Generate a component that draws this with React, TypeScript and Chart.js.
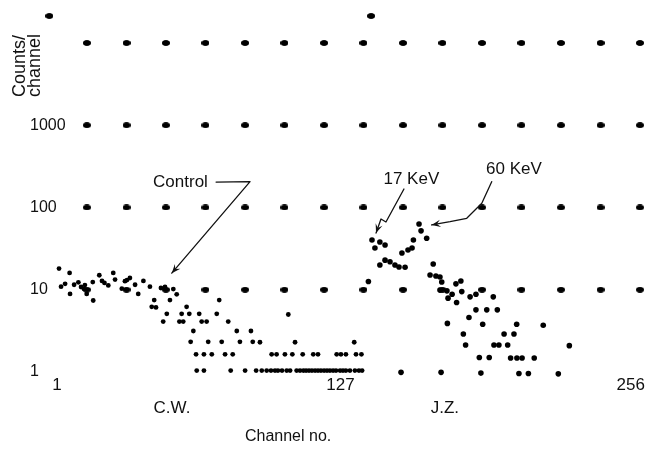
import React, { useEffect, useRef } from 'react';
import { Chart, registerables } from 'chart.js';

Chart.register(...registerables);

const INK = '#111111';
const FONT = '"Liberation Sans", Arial, sans-serif';

// Axis ticks
const xTickValues = [1, 127, 256];
const yTickValues = [1, 10, 100, 1000];

// Display marker grid of the analyser (channel positions and count levels)
const markerChannels = [14.3, 31.9, 49.4, 67.0, 84.6, 102.1, 119.7, 137.2, 154.8, 172.3, 189.9, 207.4, 225.0, 242.6, 260.1];
const markerLevels = [10, 100, 1000, 10000];
const extraMarkerChannels = [-2.4, 140.6];
const extraMarkerLevel = 21300;

// C.W. (control) spectrum
const cwChannels = [
  1.9, 6.6, 2.8, 4.6, 6.8, 8.6, 10.5, 11.7, 13.4, 13.0, 14.2, 16.9, 17.1, 19.8, 21.0, 22.1, 23.8, 26.0, 26.8, 29.8,
  31.2, 32.1, 33.4, 35.7, 37.1, 39.4, 42.3, 47.2, 49.0, 52.7, 54.2, 44.2, 51.2, 73.1, 43.1, 45.0, 58.6, 49.8, 56.4, 59.8,
  64.2, 72.0, 103.8, 48.2, 55.4, 57.1, 65.3, 67.5, 77.1, 61.6, 80.9, 87.2, 60.4, 68.2, 74.2, 82.3, 88.0, 91.2, 106.8, 133.1,
  62.8, 66.3, 69.8, 75.7, 79.1, 96.4, 98.6, 102.3, 105.6, 110.2, 114.9, 117.0, 125.3, 127.2, 129.4, 133.9, 136.3,
  63.1, 66.3, 78.2, 84.6, 89.5, 92.0, 94.2, 96.1, 97.9, 99.2, 101.0, 103.1, 104.6, 107.5, 109.0, 110.5, 111.7, 113.0,
  114.3, 115.7, 117.0, 118.3, 119.7, 121.0, 122.3, 123.7, 125.0, 126.8, 128.1, 129.4, 131.2, 133.4, 135.2, 136.6,
];
const cwCounts = [
  18.1, 16.0, 10.9, 11.8, 8.9, 11.5, 12.3, 10.8, 11.4, 10.2, 8.9, 12.4, 7.4, 15.0, 12.8, 12.1, 11.3, 16.0, 13.3, 10.3,
  12.7, 13.1, 13.9, 11.5, 8.9, 12.8, 10.9, 10.5, 10.8, 10.2, 8.8, 7.5, 7.5, 7.5, 6.2, 6.1, 6.2, 5.1, 5.1, 5.1,
  5.1, 5.1, 5.0, 4.1, 4.1, 4.1, 4.1, 4.1, 4.1, 3.15, 3.15, 3.15, 2.33, 2.33, 2.33, 2.33, 2.33, 2.3, 2.3, 2.3,
  1.64, 1.64, 1.64, 1.64, 1.64, 1.64, 1.64, 1.64, 1.64, 1.64, 1.64, 1.64, 1.64, 1.64, 1.64, 1.64, 1.64,
  1.04, 1.04, 1.04, 1.04, 1.04, 1.04, 1.04, 1.04, 1.04, 1.04, 1.04, 1.04, 1.04, 1.04, 1.04, 1.04, 1.04, 1.04,
  1.04, 1.04, 1.04, 1.04, 1.04, 1.04, 1.04, 1.04, 1.04, 1.04, 1.04, 1.04, 1.04, 1.04, 1.04, 1.04,
];

// J.Z. spectrum
const jzChannels = [
  139.4, 141.0, 144.5, 146.8, 142.3, 144.5, 146.8, 149.0, 151.2, 153.0, 155.7, 154.3, 157.0, 158.8, 159.4, 165.3,
  161.9, 162.8, 168.2, 166.8, 169.4, 171.2, 172.0, 178.3, 180.5, 171.2, 174.3, 176.6, 174.8, 180.9, 178.6, 184.6,
  187.2, 194.9, 187.2, 192.0, 196.7, 184.1, 174.5, 190.2, 205.3, 217.1, 181.6, 199.7, 204.1, 182.6, 195.2, 197.4,
  201.3, 228.7, 188.7, 193.1, 202.6, 205.4, 207.7, 213.1, 153.9, 171.7, 189.4, 206.3, 210.5, 223.8,
];
const jzCounts = [
  12.6, 40.3, 38.1, 35.0, 32.2, 20.0, 22.9, 21.9, 20.0, 18.9, 18.8, 28.0, 30.4, 32.2, 40.3, 42.2,
  63.0, 52.0, 20.6, 15.1, 14.7, 14.3, 12.4, 11.8, 12.8, 9.9, 9.7, 8.8, 7.9, 9.5, 7.0, 8.2,
  8.8, 8.2, 5.7, 5.7, 5.7, 4.6, 3.9, 3.8, 3.8, 3.7, 2.9, 2.9, 2.9, 2.13, 2.13, 2.13,
  2.13, 2.09, 1.5, 1.5, 1.48, 1.48, 1.48, 1.48, 0.99, 0.99, 0.97, 0.96, 0.96, 0.95,
];

// Callouts (text anchored in channel / count coordinates)
const calloutTexts = ['Control', '17 KeV', '60 KeV'];
const calloutChannels = [43.7, 158.5, 204.1];
const calloutCounts = [204, 222, 294];
const calloutAligns: CanvasTextAlign[] = ['left', 'center', 'center'];

// Leader lines ending in arrowheads: [channel, count]
const controlLeader = [[71.7, 204], [86.8, 206], [52.0, 15.9]];
const kev17Leader = [[155.2, 168], [147.2, 66.6], [145.0, 72.5], [142.8, 48.9]];
const kev60Leader = [[194.2, 206], [189.8, 112.5], [183.1, 73.9], [175.7, 67.2], [167.5, 61.3]];
const leaders = [controlLeader, kev17Leader, kev60Leader];

// Labels under the axis
const regionLabels = ['C.W.', 'J.Z.'];
const regionChannels = [52.1, 173.4];
const xTitle = 'Channel no.';
const xTitleChannel = 103.7;
const yTitleLines = ['Counts/', 'channel'];

function makeDot(w: number, h: number): HTMLCanvasElement {
  const c = document.createElement('canvas');
  c.width = w;
  c.height = h;
  const g = c.getContext('2d')!;
  g.fillStyle = '#000000';
  for (let k = 0; k < 2; k++) {
    g.beginPath();
    g.ellipse(w / 2, h / 2, w / 2 - 0.2, h / 2 - 0.2, 0, 0, Math.PI * 2);
    g.fill();
  }
  return c;
}

const annotationPlugin = {
  id: 'mcaAnnotations',
  afterDatasetsDraw(chart: any) {
    const { ctx, scales, chartArea } = chart;
    const xs = scales.x;
    const ys = scales.y;
    ctx.save();
    ctx.fillStyle = INK;
    ctx.strokeStyle = INK;
    ctx.lineWidth = 1.3;
    ctx.lineJoin = 'round';
    ctx.lineCap = 'round';

    for (const path of leaders) {
      const pts = path.map(([c, v]) => [xs.getPixelForValue(c), ys.getPixelForValue(v)]);
      ctx.beginPath();
      pts.forEach(([px, py], i) => (i ? ctx.lineTo(px, py) : ctx.moveTo(px, py)));
      ctx.stroke();
      const [x1, y1] = pts[pts.length - 2];
      const [x2, y2] = pts[pts.length - 1];
      const a = Math.atan2(y2 - y1, x2 - x1);
      const L = 9;
      const W = 3.6;
      ctx.beginPath();
      ctx.moveTo(x2, y2);
      ctx.lineTo(x2 - L * Math.cos(a) + W * Math.sin(a), y2 - L * Math.sin(a) - W * Math.cos(a));
      ctx.lineTo(x2 - 0.6 * L * Math.cos(a), y2 - 0.6 * L * Math.sin(a));
      ctx.lineTo(x2 - L * Math.cos(a) - W * Math.sin(a), y2 - L * Math.sin(a) + W * Math.cos(a));
      ctx.closePath();
      ctx.fill();
    }

    ctx.textBaseline = 'middle';
    ctx.font = `17px ${FONT}`;
    calloutTexts.forEach((t, i) => {
      ctx.textAlign = calloutAligns[i];
      ctx.fillText(t, xs.getPixelForValue(calloutChannels[i]), ys.getPixelForValue(calloutCounts[i]));
    });

    ctx.textAlign = 'center';
    ctx.font = `17px ${FONT}`;
    regionLabels.forEach((t, i) => {
      ctx.fillText(t, xs.getPixelForValue(regionChannels[i]), chartArea.bottom + 33);
    });
    ctx.font = `16px ${FONT}`;
    ctx.fillText(xTitle, xs.getPixelForValue(xTitleChannel), chartArea.bottom + 62);

    ctx.font = `18px ${FONT}`;
    ctx.textAlign = 'left';
    yTitleLines.forEach((t, i) => {
      ctx.save();
      ctx.translate(chartArea.left - 10 + i * 15, chartArea.top + 87);
      ctx.rotate(-Math.PI / 2);
      ctx.fillText(t, 0, 0);
      ctx.restore();
    });
    ctx.restore();
  },
};

export default function App() {
  const ref = useRef<HTMLCanvasElement>(null);

  useEffect(() => {
    const canvas = ref.current;
    if (!canvas) return;
    const markerImg = makeDot(8, 6);
    const markerData: { x: number; y: number }[] = [];
    for (const lv of markerLevels) for (const c of markerChannels) markerData.push({ x: c, y: lv });
    extraMarkerChannels.forEach((c) => markerData.push({ x: c, y: extraMarkerLevel }));
    const cw = cwChannels.map((c, i) => ({ x: c, y: cwCounts[i] }));
    const jz = jzChannels.map((c, i) => ({ x: c, y: jzCounts[i] }));

    const chart = new Chart(canvas, {
      type: 'scatter',
      data: {
        datasets: [
          { label: 'markers', data: markerData, pointStyle: markerImg as any, pointRadius: 4, clip: false as any },
          { label: 'C.W.', data: cw, pointRadius: 2.4, pointBackgroundColor: '#000', pointBorderWidth: 0, clip: false as any },
          { label: 'J.Z.', data: jz, pointRadius: 2.8, pointBackgroundColor: '#000', pointBorderWidth: 0, clip: false as any },
        ],
      },
      options: {
        responsive: false,
        animation: false,
        devicePixelRatio: 1,
        events: [],
        layout: { padding: { left: 30, right: 7, top: 10, bottom: 55.6 } },
        plugins: { legend: { display: false }, tooltip: { enabled: false } },
        scales: {
          x: {
            type: 'linear',
            min: -11,
            max: 264.556,
            bounds: 'data',
            grid: { display: false, drawTicks: false },
            border: { display: false },
            afterBuildTicks: (s: any) => {
              s.ticks = xTickValues.map((v) => ({ value: v }));
            },
            ticks: {
              padding: 0,
              color: INK,
              autoSkip: false,
              maxRotation: 0,
              font: { family: FONT, size: 17 },
              callback: (v: any) => String(v),
            },
          },
          y: {
            type: 'logarithmic',
            min: 0.9195,
            max: 25183,
            bounds: 'data',
            grid: { display: false, drawTicks: false },
            border: { display: false },
            afterBuildTicks: (s: any) => {
              s.ticks = yTickValues.map((v) => ({ value: v }));
            },
            ticks: {
              mirror: true,
              padding: 0,
              color: INK,
              autoSkip: false,
              font: { family: FONT, size: 16 },
              callback: (v: any) => String(v),
            },
          },
        },
      },
      plugins: [annotationPlugin],
    } as any);
    return () => chart.destroy();
  }, []);

  return (
    <div style={{ position: 'absolute', left: 0, top: 0, width: 657, height: 451, background: '#ffffff' }}>
      <canvas ref={ref} width={657} height={451} style={{ display: 'block' }} />
    </div>
  );
}
